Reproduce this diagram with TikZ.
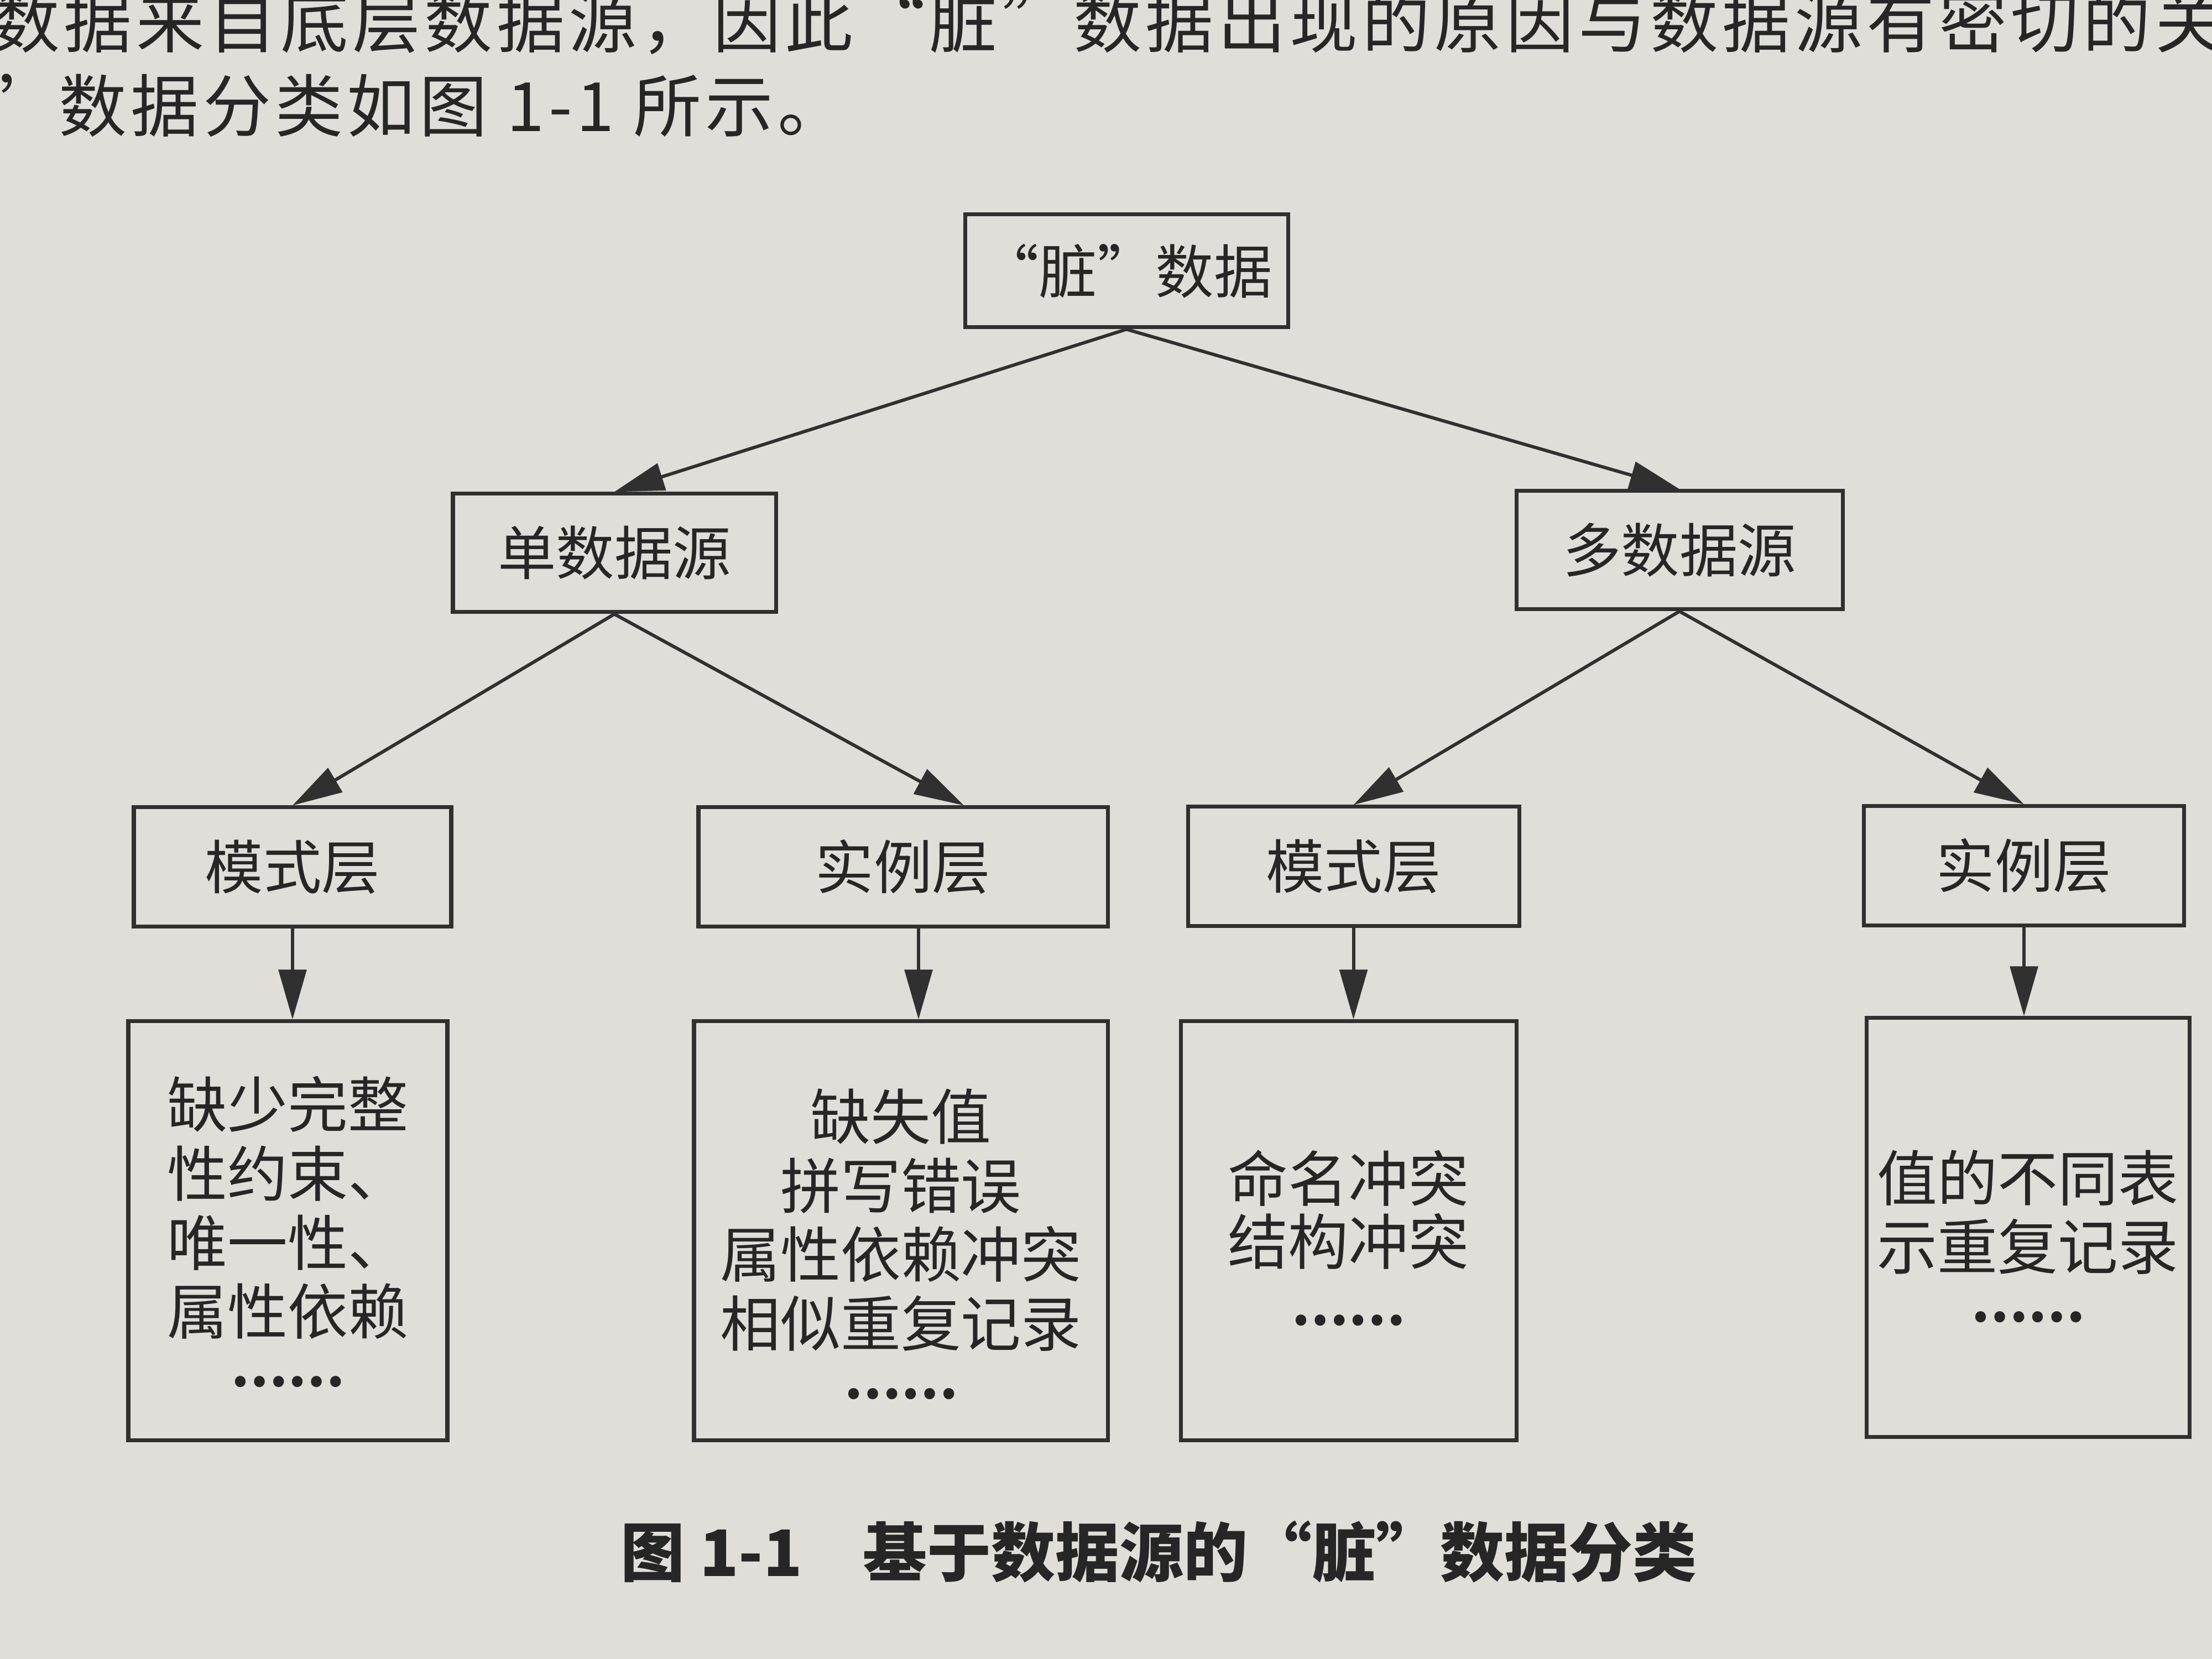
\documentclass[tikz,border=0pt]{standalone}
\usepackage{fontspec}
\setmainfont{Noto Sans CJK SC}
\usetikzlibrary{arrows.meta}
\definecolor{paper}{RGB}{224,222,217}
\definecolor{ink}{RGB}{38,38,38}
\definecolor{inkline}{RGB}{48,48,48}
\newcommand{\leafdots}{{\bfseries\fontsize{26}{26}\selectfont\raisebox{0.3cm}{……}}}
\tikzset{
  box/.style={draw=inkline, line width=2pt, rectangle, inner sep=0pt, text=ink,
    font=\fontsize{30}{36}\selectfont},
  leafbox/.style={draw=inkline, line width=2pt, rectangle, inner sep=0pt,
    minimum height=7.58cm},
  leaftxt/.style={text=ink, align=center, inner sep=0pt,
    font=\fontsize{31}{35.5}\selectfont},
  conn/.style={draw=inkline, line width=1.7pt, -{Triangle[length=9mm,width=5mm]}},
  bodytxt/.style={text=ink, inner sep=0pt, anchor=west,
    font=\fontsize{35}{40}\selectfont\addfontfeature{LetterSpace=6}},
  captxt/.style={text=ink, inner sep=0pt, anchor=west,
    font=\bfseries\fontsize{33}{36}\selectfont},
}
\begin{document}
\begin{tikzpicture}
\fill[paper] (0,0) rectangle (40,30);
\useasboundingbox (0,0) rectangle (40,30);

% running text of the page
\node[bodytxt] (line1) at (-0.15,29.6) {数据来自底层数据源，因此“脏”数据出现的原因与数据源有密切的关};
\node[bodytxt] (line2) at (-1.55,28.09) {脏”数据分类如图 1-1 所示。};

% tree
\node[box, minimum width=5.84cm, minimum height=2.04cm] (dirty) at (20.37,25.10) {“脏”数据};
\node[box, minimum width=5.84cm, minimum height=2.14cm] (single) at (11.11,20.0) {单数据源};
\node[box, minimum width=5.9cm, minimum height=2.14cm] (multi) at (30.37,20.05) {多数据源};

\node[box, minimum width=5.74cm, minimum height=2.16cm] (schL) at (5.29,14.32) {模式层};
\node[box, minimum width=7.4cm, minimum height=2.16cm] (insL) at (16.33,14.32) {实例层};
\node[box, minimum width=5.99cm, minimum height=2.16cm] (schR) at (24.475,14.33) {模式层};
\node[box, minimum width=5.79cm, minimum height=2.16cm] (insR) at (36.6,14.34) {实例层};

\node[leafbox, minimum width=5.77cm] (L1) at (5.205,7.74) {};
\node[leafbox, minimum width=7.48cm] (L2) at (16.29,7.74) {};
\node[leafbox, minimum width=6.07cm] (L3) at (24.385,7.74) {};
\node[leafbox, minimum width=5.84cm] (L4) at (36.67,7.80) {};

\node[leaftxt] (T1) at (L1.center) [yshift=-0.16cm] {缺少完整\\性约束、\\唯一性、\\属性依赖\\\leafdots};
\node[leaftxt] (T2) at (L2.center) [yshift=-0.38cm] {缺失值\\拼写错误\\属性依赖冲突\\相似重复记录\\\leafdots};
\node[leaftxt, font=\fontsize{31}{32.5}\selectfont] (T3) at (L3.center) [yshift=-0.27cm] {命名冲突\\结构冲突\\[0.26cm]\leafdots};
\node[leaftxt] (T4) at (L4.center) [yshift=-0.30cm] {值的不同表\\示重复记录\\\leafdots};

% connectors
\draw[conn] (dirty.south) -- (single.north);
\draw[conn] (dirty.south) -- (multi.north);
\draw[conn] (single.south) -- (schL.north);
\draw[conn] (single.south) -- ([xshift=1.1cm]insL.north);
\draw[conn] (multi.south) -- (schR.north);
\draw[conn] (multi.south) -- (insR.north);

\draw[conn] (schL.south) -- (schL.south |- L1.north);
\draw[conn] ([xshift=0.28cm]insL.south) -- ([xshift=0.28cm]insL.south |- L2.north);
\draw[conn] (schR.south) -- (schR.south |- L3.north);
\draw[conn] (insR.south) -- (insR.south |- L4.north);

% caption
\node[captxt] (cap) at (11.22,1.94) {图~1-1\hspace{1.1cm}基于数据源的“脏”数据分类};
\end{tikzpicture}
\end{document}
